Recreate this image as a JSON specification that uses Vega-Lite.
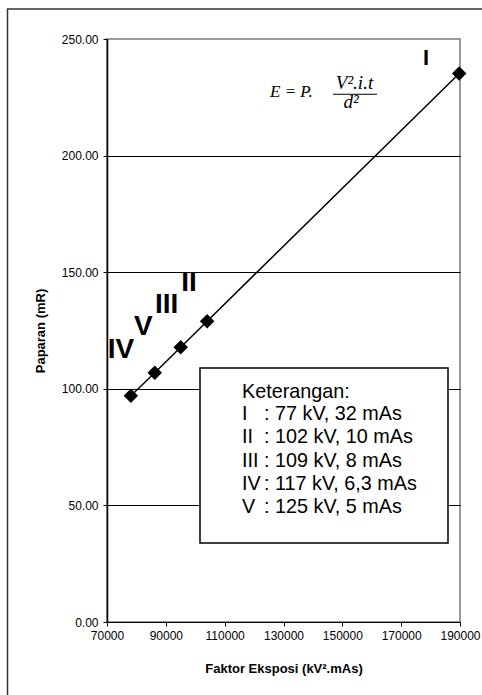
{
  "$schema": "https://vega.github.io/schema/vega-lite/v6.json",
  "width": 353,
  "height": 583,
  "autosize": {"type": "none"},
  "padding": {"left": 107, "top": 39, "right": 22, "bottom": 73},
  "background": "white",
  "config": {
    "view": {"stroke": "#9a9a9a", "strokeWidth": 2},
    "font": "Liberation Sans"
  },
  "encoding": {
    "x": {
      "field": "x", "type": "quantitative",
      "scale": {"domain": [70000, 190000], "nice": false, "zero": false},
      "axis": {
        "title": "Faktor Eksposi (kV².mAs)",
        "values": [70000, 90000, 110000, 130000, 150000, 170000, 190000],
        "format": "d", "grid": false,
        "domainColor": "black", "domainWidth": 1,
        "tickColor": "black", "tickSize": 4,
        "labelFont": "Liberation Sans", "labelFontSize": 12, "labelColor": "black",
        "labelPadding": 4, "labelFlush": false, "labelOverlap": false,
        "titleFont": "Liberation Sans", "titleFontSize": 13, "titleFontWeight": "bold",
        "titleColor": "black", "titlePadding": 21
      }
    },
    "y": {
      "field": "y", "type": "quantitative",
      "scale": {"domain": [0, 250], "nice": false, "zero": false},
      "axis": {
        "title": "Paparan (mR)",
        "values": [0, 50, 100, 150, 200, 250],
        "format": ".2f", "grid": true,
        "gridColor": "black", "gridWidth": 1,
        "gridOpacity": {"condition": {"test": "datum.value == 250 || datum.value == 0", "value": 0}, "value": 1},
        "domainColor": "black", "domainWidth": 1.5,
        "tickColor": "black", "tickSize": 4,
        "labelFont": "Liberation Sans", "labelFontSize": 12, "labelColor": "black",
        "labelPadding": 5, "labelFlush": false, "labelOverlap": false,
        "titleFont": "Liberation Sans", "titleFontSize": 13, "titleFontWeight": "bold",
        "titleColor": "black", "titlePadding": 14
      }
    }
  },
  "layer": [
    {
      "data": {"values": [{"x": 36176, "x2": 200197, "y": 262.9, "y2": -35.6}]},
      "mark": {"type": "rect", "fill": "white", "fillOpacity": 0, "stroke": "#333333", "strokeWidth": 1.5},
      "encoding": {"x2": {"field": "x2"}, "y2": {"field": "y2"}}
    },
    {
      "data": {"name": "pts", "values": [
        {"x": 78125, "y": 97.0},
        {"x": 86241, "y": 106.9},
        {"x": 95048, "y": 117.8},
        {"x": 104040, "y": 129.0},
        {"x": 189728, "y": 235.2}
      ]},
      "layer": [
        {"mark": {"type": "line", "color": "black", "strokeWidth": 1.5}},
        {"mark": {"type": "point", "shape": "diamond", "filled": true, "size": 210, "color": "black", "opacity": 1}}
      ]
    },
    {
      "data": {"values": [{"x": 101614, "x2": 185920, "y": 108.9, "y2": 33.9}]},
      "mark": {"type": "rect", "fill": "white", "stroke": "black", "strokeWidth": 1.5},
      "encoding": {"x2": {"field": "x2"}, "y2": {"field": "y2"}}
    },
    {
      "data": {"values": [
        {"x": 115892, "y": 96.05, "t": "Keterangan:"},
        {"x": 115892, "y": 86.6, "t": "I"},
        {"x": 123371, "y": 86.6, "t": ": 77 kV, 32 mAs"},
        {"x": 115892, "y": 76.6, "t": "II"},
        {"x": 123371, "y": 76.6, "t": ": 102 kV, 10 mAs"},
        {"x": 115892, "y": 66.6, "t": "III"},
        {"x": 123371, "y": 66.6, "t": ": 109 kV, 8 mAs"},
        {"x": 115892, "y": 56.6, "t": "IV"},
        {"x": 123371, "y": 56.6, "t": ": 117 kV, 6,3 mAs"},
        {"x": 115892, "y": 46.6, "t": "V"},
        {"x": 123371, "y": 46.6, "t": ": 125 kV, 5 mAs"}
      ]},
      "mark": {"type": "text", "align": "left", "baseline": "alphabetic", "font": "Liberation Sans", "fontSize": 19.8, "color": "black"},
      "encoding": {"text": {"field": "t"}}
    },
    {
      "data": {"values": [
        {"x": 74759, "y": 116.6, "t": "IV"},
        {"x": 82340, "y": 126.6, "t": "V"},
        {"x": 90294, "y": 135.9, "t": "III"},
        {"x": 97875, "y": 145.2, "t": "II"}
      ]},
      "mark": {"type": "text", "align": "center", "baseline": "middle", "font": "Liberation Sans", "fontSize": 28, "fontWeight": "bold", "color": "black"},
      "encoding": {"text": {"field": "t"}}
    },
    {
      "data": {"values": [{"x": 178440, "y": 241.9, "t": "I"}]},
      "mark": {"type": "text", "align": "center", "baseline": "middle", "font": "Liberation Sans", "fontSize": 22, "fontWeight": "bold", "color": "black"},
      "encoding": {"text": {"field": "t"}}
    },
    {
      "data": {"values": [{"x": 125410, "y": 225.3, "t": "E = P."}]},
      "mark": {"type": "text", "align": "left", "baseline": "alphabetic", "font": "Liberation Serif", "fontSize": 17, "fontStyle": "italic", "color": "black"},
      "encoding": {"text": {"field": "t"}}
    },
    {
      "data": {"values": [
        {"x": 154135, "y": 228.6, "t": "V².i.t"},
        {"x": 152945, "y": 220.4, "t": "d²"}
      ]},
      "mark": {"type": "text", "align": "center", "baseline": "alphabetic", "font": "Liberation Serif", "fontSize": 19, "fontStyle": "italic", "color": "black"},
      "encoding": {"text": {"field": "t"}}
    },
    {
      "data": {"values": [{"x": 146830, "x2": 161780, "y": 226.3}]},
      "mark": {"type": "rule", "color": "black", "strokeWidth": 1},
      "encoding": {"x2": {"field": "x2"}}
    }
  ]
}
